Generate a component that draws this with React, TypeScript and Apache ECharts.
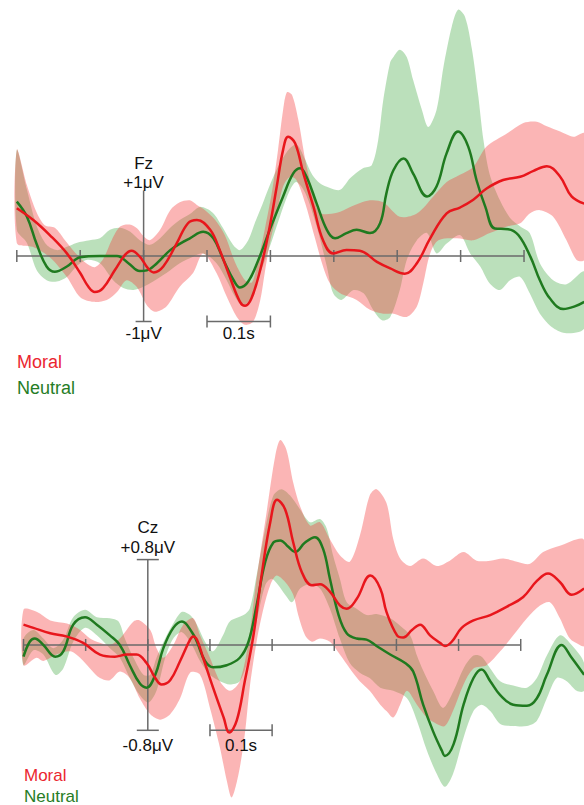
import React, { useEffect, useRef } from "react";
import * as echarts from "echarts";

// ---------- data (time in ms, amplitude in μV) ----------
const tickTimes = [-200, -100, 0, 100, 200, 300, 400, 500, 600];
const legendLabels = ["Moral", "Neutral"];

// Fz
const fzMoral = [[-200,0.73],[-174,0.55],[-148,0.32],[-121,0.04],[-100,-0.26],[-87,-0.47],[-77,-0.55],[-64,-0.49],[-45,-0.21],[-29,0.02],[-19,0.08],[-6,-0.01],[7,-0.19],[16,-0.25],[31,-0.16],[52,0.19],[70,0.50],[84,0.55],[105,0.40],[120,0.09],[136,-0.32],[152,-0.70],[160,-0.76],[170,-0.65],[184,-0.21],[197,0.35],[210,1.06],[220,1.62],[228,1.82],[239,1.72],[252,1.26],[268,0.75],[283,0.24],[299,0.04],[320,0.09],[341,0.08],[368,-0.09],[389,-0.19],[412,-0.27],[431,-0.11],[452,0.27],[478,0.65],[499,0.74],[520,0.86],[541,1.03],[567,1.16],[594,1.21],[615,1.30],[636,1.37],[657,1.21],[675,0.91],[695,0.80]];
const fzNeutral = [[-200,0.83],[-184,0.60],[-169,0.19],[-153,-0.16],[-140,-0.24],[-121,-0.16],[-100,-0.02],[-69,0.0],[-42,0.0],[-24,-0.11],[-6,-0.23],[5,-0.22],[21,-0.11],[42,0.09],[63,0.22],[73,0.27],[94,0.37],[110,0.27],[126,-0.06],[142,-0.37],[152,-0.48],[165,-0.39],[181,-0.06],[199,0.40],[220,0.91],[236,1.26],[247,1.34],[257,1.21],[273,0.80],[289,0.40],[302,0.27],[320,0.35],[336,0.40],[357,0.35],[373,0.50],[383,0.96],[394,1.31],[410,1.49],[425,1.26],[447,0.91],[462,1.06],[478,1.57],[496,1.90],[512,1.67],[525,1.16],[539,0.75],[554,0.42],[575,0.41],[591,0.32],[610,-0.01],[625,-0.37],[641,-0.65],[662,-0.81],[680,-0.77],[695,-0.70]];
const fzMoralUpper = [[-200,1.62],[-184,1.08],[-169,0.67],[-156,0.47],[-140,0.43],[-124,0.24],[-108,0.05],[-92,-0.10],[-77,-0.17],[-64,-0.05],[-50,0.25],[-37,0.45],[-22,0.48],[-10,0.42],[0,0.30],[10,0.24],[26,0.40],[42,0.70],[57,0.82],[73,0.85],[84,0.78],[97,0.70],[113,0.55],[128,0.32],[144,-0.09],[160,-0.37],[171,-0.40],[180,-0.09],[191,0.40],[203,1.01],[212,1.62],[220,2.23],[226,2.50],[234,2.46],[244,2.08],[255,1.47],[266,1.01],[278,0.66],[305,0.66],[326,0.75],[357,0.85],[378,0.82],[404,0.60],[431,0.65],[457,0.91],[478,1.13],[499,1.24],[520,1.36],[541,1.67],[573,1.87],[599,2.03],[620,2.05],[636,1.98],[657,1.90],[678,1.82],[695,1.87]];
const fzMoralLower = [[-200,0.20],[-175,0.14],[-148,-0.02],[-121,-0.32],[-100,-0.63],[-79,-0.70],[-58,-0.67],[-42,-0.55],[-27,-0.37],[-11,-0.47],[5,-0.75],[18,-0.85],[36,-0.77],[57,-0.47],[78,-0.26],[94,0.04],[115,-0.26],[131,-0.62],[147,-0.93],[160,-1.05],[173,-1.00],[184,-0.67],[191,-0.26],[199,0.19],[210,0.65],[220,1.06],[231,1.21],[241,1.16],[255,0.80],[268,0.35],[283,-0.16],[294,-0.42],[310,-0.57],[336,-0.67],[357,-0.82],[378,-0.88],[394,-0.88],[415,-0.93],[431,-0.77],[441,-0.42],[452,0.04],[465,0.24],[494,0.27],[520,0.24],[546,0.35],[573,0.45],[594,0.50],[609,0.65],[625,0.70],[646,0.60],[667,0.24],[683,-0.06],[695,-0.06]];
const fzNeutralUpper = [[-200,1.62],[-184,1.01],[-169,0.47],[-153,0.17],[-137,0.09],[-121,0.14],[-106,0.20],[-85,0.24],[-69,0.27],[-53,0.40],[-37,0.43],[-21,0.37],[-6,0.24],[10,0.17],[26,0.27],[42,0.43],[57,0.55],[73,0.64],[89,0.75],[109,0.66],[125,0.43],[141,0.17],[152,0.09],[165,0.24],[176,0.52],[187,0.78],[199,1.08],[215,1.42],[231,1.65],[242,1.70],[255,1.47],[266,1.24],[278,1.11],[294,1.04],[310,1.01],[326,1.19],[346,1.34],[360,1.39],[370,1.77],[378,2.38],[389,2.96],[394,3.04],[404,3.15],[415,3.04],[425,2.69],[439,2.23],[449,1.97],[462,2.23],[473,2.89],[486,3.50],[496,3.76],[507,3.65],[518,3.15],[528,2.43],[536,1.77],[546,1.24],[562,0.85],[578,0.58],[594,0.45],[609,0.35],[625,-0.11],[646,-0.37],[667,-0.43],[695,-0.24]];
const fzNeutralLower = [[-200,0.40],[-184,0.20],[-169,-0.21],[-153,-0.37],[-137,-0.39],[-121,-0.32],[-106,-0.16],[-90,-0.06],[-69,-0.11],[-48,-0.37],[-32,-0.49],[-16,-0.52],[0,-0.47],[15,-0.39],[36,-0.26],[57,-0.11],[78,-0.01],[94,0.04],[115,-0.11],[131,-0.37],[144,-0.62],[155,-0.75],[168,-0.67],[184,-0.26],[199,0.14],[215,0.60],[231,1.01],[241,1.13],[255,0.96],[273,0.45],[289,-0.16],[299,-0.57],[312,-0.67],[331,-0.52],[347,-0.57],[362,-0.82],[376,-0.98],[389,-0.93],[404,-0.52],[415,-0.06],[431,0.24],[447,0.35],[462,0.04],[478,0.19],[499,0.32],[515,0.04],[531,-0.16],[546,-0.42],[562,-0.52],[578,-0.37],[594,-0.32],[609,-0.57],[625,-0.88],[646,-1.10],[667,-1.18],[695,-1.10]];

// Cz
const czMoral = [[-200,0.19],[-184,0.16],[-157,0.11],[-131,0.08],[-104,0.02],[-77,-0.09],[-53,-0.11],[-34,-0.09],[-18,-0.09],[-2,-0.17],[12,-0.31],[22,-0.37],[36,-0.33],[52,-0.15],[68,0.05],[73,0.08],[79,0.05],[89,-0.12],[105,-0.40],[122,-0.68],[131,-0.82],[143,-0.71],[156,-0.34],[170,0.09],[183,0.65],[197,1.15],[208,1.36],[221,1.27],[234,0.96],[248,0.68],[264,0.56],[277,0.57],[293,0.50],[309,0.37],[320,0.34],[336,0.43],[358,0.65],[374,0.53],[384,0.31],[401,0.09],[411,0.07],[425,0.14],[438,0.19],[454,0.09],[470,0.02],[478,-0.01],[489,0.03],[505,0.16],[524,0.23],[551,0.28],[578,0.36],[604,0.45],[626,0.60],[644,0.67],[663,0.59],[682,0.47],[702,0.53]];
const czNeutral = [[-200,-0.11],[-190,0.03],[-182,0.06],[-168,0.0],[-149,-0.11],[-136,-0.06],[-120,0.19],[-101,0.26],[-82,0.19],[-61,0.09],[-45,0.0],[-29,-0.19],[-13,-0.36],[-2,-0.40],[12,-0.28],[25,-0.03],[41,0.16],[55,0.22],[71,0.12],[79,0.03],[92,-0.15],[105,-0.21],[127,-0.19],[148,-0.12],[162,0.03],[175,0.37],[189,0.78],[202,0.96],[213,0.98],[226,0.92],[237,0.87],[253,0.96],[269,1.01],[282,0.90],[293,0.62],[307,0.28],[320,0.11],[336,0.06],[352,0.05],[368,-0.01],[390,-0.09],[414,-0.17],[427,-0.25],[443,-0.56],[459,-0.81],[473,-0.99],[478,-1.04],[492,-0.93],[508,-0.56],[524,-0.31],[537,-0.23],[551,-0.34],[567,-0.47],[588,-0.56],[610,-0.57],[626,-0.50],[642,-0.28],[666,0.0],[682,-0.12],[702,-0.28]];
const czMoralUpper = [[-200,0.33],[-179,0.31],[-157,0.23],[-130,0.20],[-109,0.14],[-93,0.06],[-77,0.02],[-61,0.0],[-45,0.06],[-23,0.22],[-13,0.23],[4,0.14],[14,-0.03],[25,-0.12],[41,0.0],[57,0.19],[73,0.25],[84,0.09],[100,-0.12],[116,-0.34],[132,-0.43],[148,-0.34],[162,0.03],[175,0.62],[191,1.24],[205,1.77],[213,1.92],[223,1.83],[234,1.52],[245,1.30],[261,1.12],[277,1.15],[293,0.99],[309,0.84],[325,0.78],[341,1.02],[357,1.40],[368,1.46],[384,1.33],[395,0.99],[406,0.81],[422,0.74],[443,0.81],[465,0.74],[486,0.79],[508,0.87],[529,0.79],[551,0.79],[572,0.81],[594,0.78],[615,0.76],[636,0.87],[663,0.93],[702,0.98]];
const czMoralLower = [[-200,-0.19],[-179,-0.12],[-168,-0.15],[-147,-0.09],[-125,-0.06],[-109,-0.12],[-93,-0.22],[-77,-0.31],[-61,-0.33],[-45,-0.25],[-29,-0.31],[-13,-0.50],[4,-0.65],[20,-0.70],[36,-0.65],[52,-0.50],[68,-0.26],[84,-0.28],[100,-0.59],[116,-0.96],[127,-1.27],[135,-1.43],[146,-1.21],[156,-0.84],[164,-0.40],[175,0.03],[186,0.34],[197,0.56],[207,0.65],[221,0.59],[234,0.47],[242,0.28],[253,0.09],[264,0.03],[277,0.06],[293,0.03],[309,-0.09],[325,-0.22],[341,-0.34],[357,-0.43],[374,-0.56],[384,-0.62],[395,-0.68],[406,-0.56],[417,-0.43],[433,-0.56],[449,-0.68],[465,-0.74],[478,-0.76],[491,-0.62],[508,-0.37],[524,-0.22],[545,-0.19],[567,-0.06],[588,0.09],[610,0.25],[631,0.37],[647,0.40],[663,0.25],[679,0.06],[695,0.0],[702,-0.01]];
const czNeutralUpper = [[-200,0.06],[-184,0.14],[-168,0.06],[-152,-0.03],[-136,0.05],[-120,0.26],[-101,0.33],[-82,0.26],[-61,0.25],[-47,0.22],[-37,0.06],[-23,-0.12],[-7,-0.28],[4,-0.28],[14,-0.12],[28,0.06],[41,0.20],[55,0.31],[68,0.28],[79,0.19],[92,0.03],[105,-0.06],[121,0.09],[132,0.22],[154,0.28],[164,0.34],[175,0.65],[189,1.09],[202,1.40],[215,1.46],[229,1.40],[245,1.27],[261,1.15],[277,1.18],[288,1.09],[298,0.84],[309,0.62],[320,0.40],[336,0.34],[352,0.28],[368,0.29],[390,0.25],[406,0.18],[422,0.09],[433,-0.10],[443,-0.24],[459,-0.43],[475,-0.59],[492,-0.43],[508,-0.22],[524,-0.10],[537,-0.11],[551,-0.22],[567,-0.34],[588,-0.38],[610,-0.40],[626,-0.31],[642,-0.10],[663,0.09],[682,0.0],[702,-0.17]];
const czNeutralLower = [[-200,-0.19],[-184,-0.05],[-168,-0.09],[-149,-0.28],[-136,-0.22],[-120,0.03],[-101,0.16],[-82,0.09],[-61,-0.03],[-45,-0.12],[-29,-0.31],[-13,-0.47],[1,-0.54],[14,-0.43],[28,-0.12],[41,0.06],[55,0.12],[71,0.0],[84,-0.15],[100,-0.28],[116,-0.34],[132,-0.37],[148,-0.34],[162,-0.12],[175,0.22],[189,0.56],[199,0.62],[210,0.56],[221,0.47],[232,0.40],[245,0.53],[261,0.57],[277,0.53],[293,0.34],[309,0.06],[325,-0.17],[341,-0.26],[357,-0.31],[374,-0.40],[395,-0.43],[417,-0.50],[433,-0.71],[449,-0.99],[465,-1.21],[478,-1.33],[491,-1.21],[508,-0.87],[524,-0.62],[537,-0.56],[551,-0.62],[567,-0.74],[588,-0.76],[610,-0.76],[626,-0.71],[642,-0.50],[658,-0.31],[674,-0.34],[690,-0.43],[702,-0.43]];

// ---------- styling ----------
const FONT = '"Liberation Sans", Arial, Helvetica, sans-serif';
const RED_LINE = "#e8161c";
const GREEN_LINE = "#1f7a1f";
const RED_BAND = "rgba(245,60,60,0.38)";
const GREEN_BAND = "rgba(60,165,60,0.35)";
const AXIS = "#6a6a6a";
const RED_TEXT = "rgb(235,38,48)";
const GREEN_TEXT = "rgb(38,125,38)";

type Panel = {
  name: string;
  vmax: number;
  topLabel: string;
  bottomLabel: string;
  capTop: boolean;
  capHalf: number;
  topOff: number;
  nameOff: number;
  botOff: number;
};

const panels: Panel[] = [
  { name: "Fz", vmax: 1, topLabel: "+1μV", bottomLabel: "-1μV", capTop: false, capHalf: 8, topOff: -8, nameOff: -27, botOff: 12 },
  { name: "Cz", vmax: 0.8, topLabel: "+0.8μV", bottomLabel: "-0.8μV", capTop: true, capHalf: 11, topOff: -12, nameOff: -32, botOff: 15 },
];

function makeBand(upper: number[][], lower: number[][], color: string, idx: number) {
  return {
    type: "custom",
    xAxisIndex: idx,
    yAxisIndex: idx,
    data: [[0, 0]],
    silent: true,
    z: 1,
    renderItem: (params: any, api: any) => {
      const pts = upper
        .map((p) => api.coord(p))
        .concat(lower.slice().reverse().map((p) => api.coord(p)));
      return {
        type: "polygon",
        shape: { points: pts, smooth: 0.3 },
        style: { fill: color, stroke: "none" },
      };
    },
  };
}

function makeLine(data: number[][], color: string, idx: number) {
  return {
    type: "line",
    xAxisIndex: idx,
    yAxisIndex: idx,
    data,
    smooth: 0.4,
    symbol: "none",
    silent: true,
    z: 3,
    lineStyle: { color, width: 2.5 },
  };
}

function makeDecor(p: Panel, idx: number) {
  return {
    type: "custom",
    xAxisIndex: idx,
    yAxisIndex: idx,
    data: [[0, 0]],
    silent: true,
    z: 2,
    renderItem: (params: any, api: any) => {
      const ls = { stroke: AXIS, lineWidth: 1.5 };
      const ch: any[] = [];
      const seg = (x1: number, y1: number, x2: number, y2: number) =>
        ch.push({ type: "line", shape: { x1, y1, x2, y2 }, style: ls });
      const a = api.coord([tickTimes[0], 0]);
      const b = api.coord([tickTimes[tickTimes.length - 1], 0]);
      seg(a[0], a[1], b[0], b[1]);
      tickTimes.forEach((t) => {
        const c = api.coord([t, 0]);
        seg(c[0], c[1] - 6, c[0], c[1] + 6);
      });
      const top = api.coord([0, p.vmax]);
      const bot = api.coord([0, -p.vmax]);
      seg(top[0], top[1], bot[0], bot[1]);
      if (p.capTop) seg(top[0] - p.capHalf, top[1], top[0] + p.capHalf, top[1]);
      seg(bot[0] - p.capHalf, bot[1], bot[0] + p.capHalf, bot[1]);
      const s0 = api.coord([tickTimes[3], -p.vmax]);
      const s1 = api.coord([tickTimes[4], -p.vmax]);
      seg(s0[0], s0[1], s1[0], s1[1]);
      seg(s0[0], s0[1] - 6, s0[0], s0[1] + 6);
      seg(s1[0], s1[1] - 6, s1[0], s1[1] + 6);
      const txt = (text: string, x: number, y: number) =>
        ch.push({
          type: "text",
          x,
          y,
          style: { text, fill: "#111", fontSize: 17, fontFamily: FONT, align: "center", verticalAlign: "middle" },
        });
      txt(p.name, top[0], top[1] + p.nameOff);
      txt(p.topLabel, top[0], top[1] + p.topOff);
      txt(p.bottomLabel, bot[0], bot[1] + p.botOff);
      txt("0.1s", (s0[0] + s1[0]) / 2, s0[1] + p.botOff);
      return { type: "group", children: ch };
    },
  };
}

export default function App() {
  const ref = useRef<HTMLDivElement>(null);
  useEffect(() => {
    if (!ref.current) return;
    const chart = echarts.init(ref.current, undefined, { renderer: "svg" });
    const legendText = (text: string, x: number, y: number, fill: string, size: number) => ({
      type: "text",
      x,
      y,
      style: { text, fill, fontSize: size, fontFamily: FONT, verticalAlign: "middle" },
    });
    chart.setOption({
      animation: false,
      grid: [
        { left: 16.8, top: 0.55, width: 567.2, height: 399.55 },
        { left: 23.5, top: 410.2, width: 560.5, height: 397.75 },
      ],
      xAxis: [
        { type: "value", gridIndex: 0, min: -200, max: 694.6, show: false },
        { type: "value", gridIndex: 1, min: -200, max: 701.8, show: false },
      ],
      yAxis: [
        { type: "value", gridIndex: 0, min: -2.2, max: 3.9, show: false },
        { type: "value", gridIndex: 1, min: -1.5, max: 2.2, show: false },
      ],
      graphic: [
        legendText(legendLabels[0], 17, 361.5, RED_TEXT, 18),
        legendText(legendLabels[1], 17, 388, GREEN_TEXT, 18),
        legendText(legendLabels[0], 24, 775.5, RED_TEXT, 17),
        legendText(legendLabels[1], 24, 796, GREEN_TEXT, 17),
      ],
      series: [
        makeBand(fzNeutralUpper, fzNeutralLower, GREEN_BAND, 0),
        makeBand(fzMoralUpper, fzMoralLower, RED_BAND, 0),
        makeDecor(panels[0], 0),
        makeLine(fzNeutral, GREEN_LINE, 0),
        makeLine(fzMoral, RED_LINE, 0),
        makeBand(czNeutralUpper, czNeutralLower, GREEN_BAND, 1),
        makeBand(czMoralUpper, czMoralLower, RED_BAND, 1),
        makeDecor(panels[1], 1),
        makeLine(czNeutral, GREEN_LINE, 1),
        makeLine(czMoral, RED_LINE, 1),
      ],
    });
    return () => chart.dispose();
  }, []);
  return (
    <div
      ref={ref}
      style={{ position: "absolute", left: 0, top: 0, width: 584, height: 805, background: "#fff" }}
    />
  );
}
